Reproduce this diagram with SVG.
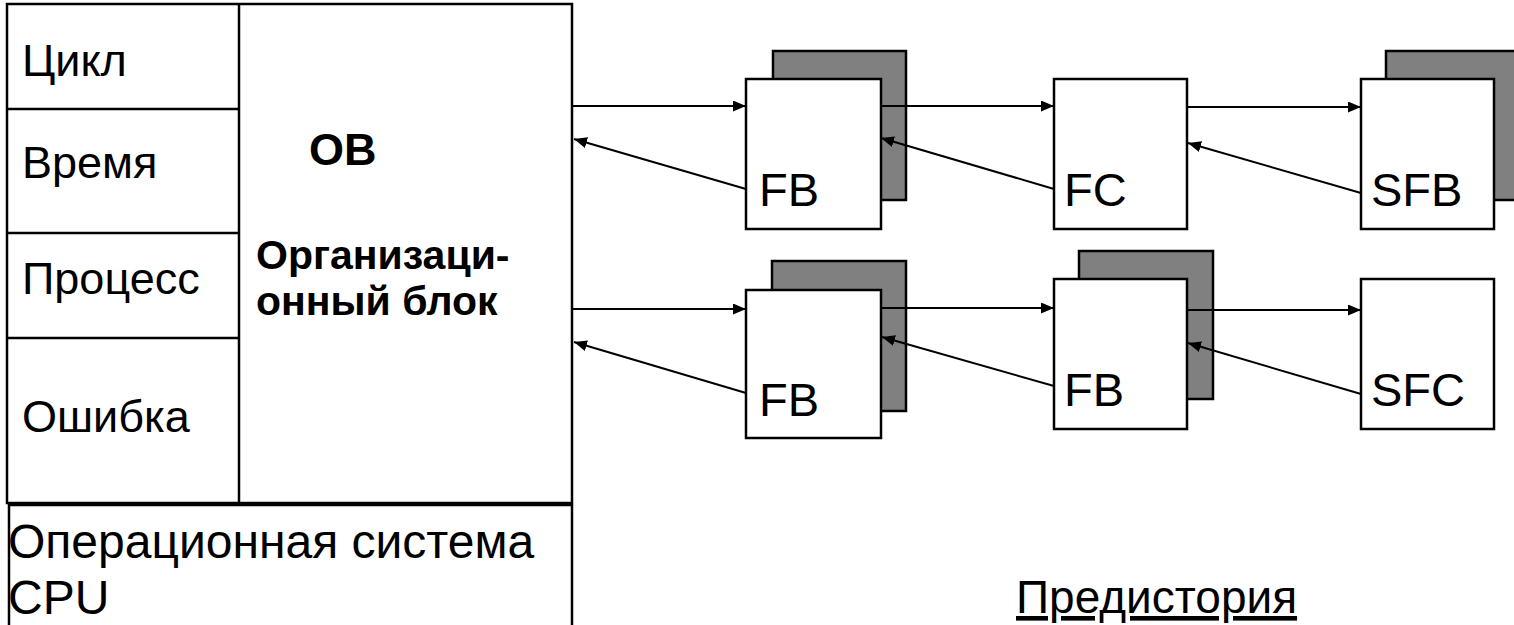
<svg xmlns="http://www.w3.org/2000/svg" width="1514" height="625" viewBox="0 0 1514 625">
<defs>
<style>
.box{fill:#fff;stroke:#000;stroke-width:2.5}
.shadow{fill:#808080;stroke:#000;stroke-width:2.5}
.ln{stroke:#000;stroke-width:2.5;fill:none}
.t{font-family:"Liberation Sans",Arial,sans-serif;fill:#000}
.lbl{font-size:45px}
.blk{font-size:47px}
.bold{font-weight:bold}
.conn{stroke:#000;stroke-width:2;fill:none;marker-end:url(#ah)}
</style>
<marker id="ah" markerUnits="userSpaceOnUse" markerWidth="14" markerHeight="12" refX="13" refY="5.5" orient="auto">
<path d="M0,0 L13,5.5 L0,11 z" fill="#000"/>
</marker>
</defs>
<rect width="1514" height="625" fill="#fff"/>
<g id="ob-panel">
<rect class="box" x="7" y="4" width="565" height="499"/>
<line class="ln" x1="239" y1="4" x2="239" y2="503"/>
<line class="ln" x1="7" y1="109" x2="239" y2="109"/>
<line class="ln" x1="7" y1="233" x2="239" y2="233"/>
<line class="ln" x1="7" y1="338" x2="239" y2="338"/>
<text class="t lbl" x="22" y="76">Цикл</text>
<text class="t lbl" x="22" y="178">Время</text>
<text class="t lbl" x="22" y="294">Процесс</text>
<text class="t lbl" x="22" y="432">Ошибка</text>
<text class="t bold" font-size="45" x="309" y="165">ОВ</text>
<text class="t bold" font-size="41"><tspan x="256" y="269">Организаци-</tspan><tspan x="256" y="315">онный блок</tspan></text>
</g>
<g id="os">
<rect class="box" x="9" y="505" width="563" height="140"/>
<text class="t" font-size="48"><tspan x="8" y="558">Операционная система</tspan><tspan x="8" y="614">CPU</tspan></text>
</g>
<g id="fb1">
<rect class="shadow" x="773" y="51" width="133" height="149"/>
<rect class="box" x="746" y="79" width="135" height="150"/>
<text class="t blk" x="759" y="206">FB</text>
</g>
<g id="fc">
<rect class="box" x="1054" y="79" width="133" height="150"/>
<text class="t blk" x="1064" y="206">FC</text>
</g>
<g id="sfb">
<rect class="shadow" x="1386" y="51" width="133" height="149"/>
<rect class="box" x="1361" y="79" width="133" height="150"/>
<text class="t blk" x="1371" y="206">SFB</text>
</g>
<g id="fb2">
<rect class="shadow" x="772" y="261" width="134" height="150"/>
<rect class="box" x="746" y="290" width="135" height="148"/>
<text class="t blk" x="759" y="416">FB</text>
</g>
<g id="fb3">
<rect class="shadow" x="1079" y="251" width="134" height="148"/>
<rect class="box" x="1054" y="279" width="133" height="150"/>
<text class="t blk" x="1064" y="406">FB</text>
</g>
<g id="sfc">
<rect class="box" x="1361" y="279" width="133" height="150"/>
<text class="t blk" x="1371" y="406">SFC</text>
</g>
<g id="connectors">
<line class="conn" x1="573" y1="106" x2="746" y2="106"/>
<line class="conn" x1="746" y1="189" x2="574" y2="139"/>
<line class="conn" x1="881" y1="106" x2="1054" y2="106"/>
<line class="conn" x1="1054" y1="189" x2="881" y2="138"/>
<line class="conn" x1="1187" y1="107" x2="1361" y2="107"/>
<line class="conn" x1="1361" y1="193" x2="1188" y2="143"/>
<line class="conn" x1="573" y1="309" x2="746" y2="309"/>
<line class="conn" x1="746" y1="393" x2="574" y2="342"/>
<line class="conn" x1="881" y1="308" x2="1054" y2="308"/>
<line class="conn" x1="1054" y1="386" x2="882" y2="337"/>
<line class="conn" x1="1187" y1="310" x2="1361" y2="310"/>
<line class="conn" x1="1361" y1="394" x2="1188" y2="343"/>
</g>
<g id="caption">
<text class="t" font-size="46" x="1016" y="613" text-decoration="underline">Предистория</text>
</g>
</svg>
